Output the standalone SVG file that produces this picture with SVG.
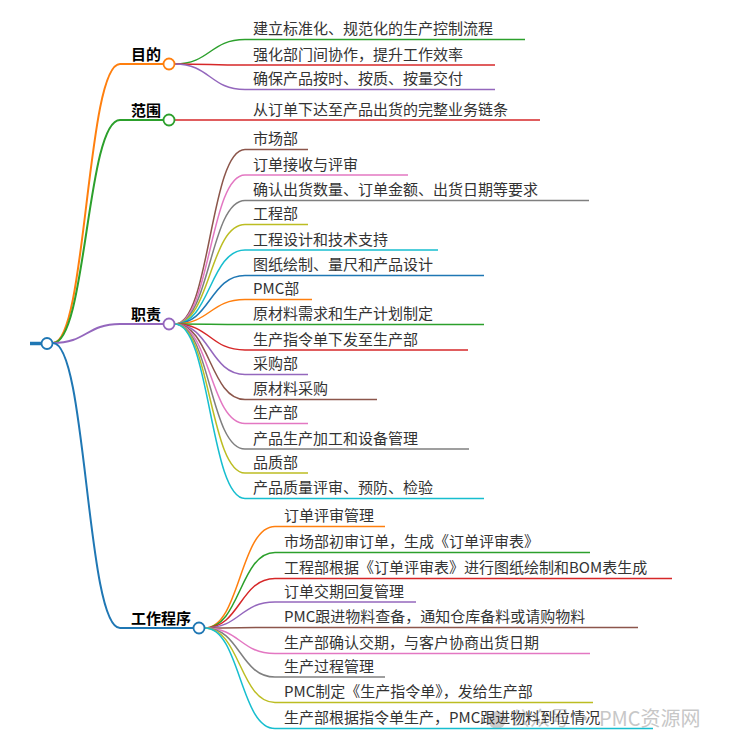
<svg xmlns="http://www.w3.org/2000/svg" width="730" height="747" viewBox="0 0 730 747">
<style>
  .lk{fill:none;stroke-width:1.5}
  .l1{fill:none;stroke-width:2}
  .c0{stroke:#1f77b4}.c1{stroke:#ff7f0e}.c2{stroke:#2ca02c}.c3{stroke:#d62728}.c4{stroke:#9467bd}
  .c5{stroke:#8c564b}.c6{stroke:#e377c2}.c7{stroke:#7f7f7f}.c8{stroke:#bcbd22}.c9{stroke:#17becf}
  .t{font-family:"Microsoft YaHei","Noto Sans CJK SC","Noto Sans",sans-serif;font-size:15px;fill:#333}
  .b{font-family:"Microsoft YaHei","Noto Sans CJK SC","Noto Sans",sans-serif;font-size:15px;font-weight:bold;fill:#000}
  .dot{fill:#fff;stroke-width:1.8}
  .wm{font-family:"Noto Sans CJK SC","Noto Sans",sans-serif;font-size:20px;fill:#9a9a9a;opacity:0.55}
</style>
<g id="watermark">
  <circle cx="497" cy="720" r="9" fill="#9a9a9a" opacity="0.5"/>
  <text class="wm" x="510" y="726">公众号 · PMC资源网</text>
</g>
<g id="connectors">
  <path class="l1 c1" d="M53,343 C86.5,343 86.5,64 120,64"/>
  <path class="l1 c2" d="M53,343 C86.5,343 86.5,120 120,120"/>
  <path class="l1 c4" d="M53,343 C86.5,343 86.5,324 120,324"/>
  <path class="l1 c0" d="M53,343 C86.5,343 86.5,628 120,628"/>
  <path class="lk c2" d="M175,64 C210,64 210,39.5 245,39.5"/>
  <path class="lk c3" d="M175,64 C210,64 210,65 245,65"/>
  <path class="lk c4" d="M175,64 C210,64 210,89.5 245,89.5"/>
  <path class="lk c3" d="M175,120 L245,120"/>
  <path class="lk c5" d="M175,324 C210,324 210,149.5 245,149.5"/>
  <path class="lk c6" d="M175,324 C210,324 210,175 245,175"/>
  <path class="lk c7" d="M175,324 C210,324 210,200.5 245,200.5"/>
  <path class="lk c8" d="M175,324 C210,324 210,224.5 245,224.5"/>
  <path class="lk c9" d="M175,324 C210,324 210,250 245,250"/>
  <path class="lk c0" d="M175,324 C210,324 210,275.5 245,275.5"/>
  <path class="lk c1" d="M175,324 C210,324 210,299.5 245,299.5"/>
  <path class="lk c2" d="M175,324 C210,324 210,324.5 245,324.5"/>
  <path class="lk c3" d="M175,324 C210,324 210,350 245,350"/>
  <path class="lk c4" d="M175,324 C210,324 210,374.5 245,374.5"/>
  <path class="lk c5" d="M175,324 C210,324 210,399.5 245,399.5"/>
  <path class="lk c6" d="M175,324 C210,324 210,423.5 245,423.5"/>
  <path class="lk c7" d="M175,324 C210,324 210,449 245,449"/>
  <path class="lk c8" d="M175,324 C210,324 210,473 245,473"/>
  <path class="lk c9" d="M175,324 C210,324 210,498.5 245,498.5"/>
  <path class="lk c1" d="M205,628 C240,628 240,526.5 275,526.5"/>
  <path class="lk c2" d="M205,628 C240,628 240,552.5 275,552.5"/>
  <path class="lk c3" d="M205,628 C240,628 240,578.5 275,578.5"/>
  <path class="lk c4" d="M205,628 C240,628 240,602 275,602"/>
  <path class="lk c5" d="M205,628 C240,628 240,627.5 275,627.5"/>
  <path class="lk c6" d="M205,628 C240,628 240,653.5 275,653.5"/>
  <path class="lk c7" d="M205,628 C240,628 240,677 275,677"/>
  <path class="lk c8" d="M205,628 C240,628 240,702.5 275,702.5"/>
  <path class="lk c9" d="M205,628 C240,628 240,728.5 275,728.5"/>
</g>
<g id="root">
  <line x1="30" y1="343.5" x2="42" y2="343.5" stroke="#1f77b4" stroke-width="3.5"/>
  <circle class="dot c0" cx="47" cy="343.5" r="5.5"/>
</g>
<g id="n-mudi">
  <line class="l1 c1" x1="120" y1="64" x2="163.5" y2="64"/>
  <text class="b" x="131" y="60">目的</text>
  <circle class="dot c1" cx="169" cy="64" r="5.5"/>
</g>
<g id="n-fanwei">
  <line class="l1 c2" x1="120" y1="120" x2="163.5" y2="120"/>
  <text class="b" x="131" y="116">范围</text>
  <circle class="dot c2" cx="169" cy="120" r="5.5"/>
</g>
<g id="n-zhize">
  <line class="l1 c4" x1="120" y1="324" x2="163.5" y2="324"/>
  <text class="b" x="131" y="320">职责</text>
  <circle class="dot c4" cx="169" cy="324" r="5.5"/>
</g>
<g id="n-chengxu">
  <line class="l1 c0" x1="120" y1="628" x2="193.5" y2="628"/>
  <text class="b" x="131" y="624">工作程序</text>
  <circle class="dot c0" cx="199" cy="628" r="5.5"/>
</g>
<g id="leaf-1"><line class="lk c2" x1="245" y1="39.5" x2="525" y2="39.5"/><text class="t" x="253" y="34">建立标准化、规范化的生产控制流程</text></g>
<g id="leaf-2"><line class="lk c3" x1="245" y1="65" x2="495" y2="65"/><text class="t" x="253" y="59.5">强化部门间协作，提升工作效率</text></g>
<g id="leaf-3"><line class="lk c4" x1="245" y1="89.5" x2="495" y2="89.5"/><text class="t" x="253" y="84">确保产品按时、按质、按量交付</text></g>
<g id="leaf-4"><line class="lk c3" x1="245" y1="120" x2="540" y2="120"/><text class="t" x="253" y="114.5">从订单下达至产品出货的完整业务链条</text></g>
<g id="leaf-5"><line class="lk c5" x1="245" y1="149.5" x2="308" y2="149.5"/><text class="t" x="253" y="144">市场部</text></g>
<g id="leaf-6"><line class="lk c6" x1="245" y1="175" x2="408" y2="175"/><text class="t" x="253" y="169.5">订单接收与评审</text></g>
<g id="leaf-7"><line class="lk c7" x1="245" y1="200.5" x2="589" y2="200.5"/><text class="t" x="253" y="195">确认出货数量、订单金额、出货日期等要求</text></g>
<g id="leaf-8"><line class="lk c8" x1="245" y1="224.5" x2="308" y2="224.5"/><text class="t" x="253" y="219">工程部</text></g>
<g id="leaf-9"><line class="lk c9" x1="245" y1="250" x2="438" y2="250"/><text class="t" x="253" y="244.5">工程设计和技术支持</text></g>
<g id="leaf-10"><line class="lk c0" x1="245" y1="275.5" x2="484" y2="275.5"/><text class="t" x="253" y="270">图纸绘制、量尺和产品设计</text></g>
<g id="leaf-11"><line class="lk c1" x1="245" y1="299.5" x2="312" y2="299.5"/><text class="t" x="253" y="294">PMC部</text></g>
<g id="leaf-12"><line class="lk c2" x1="245" y1="324.5" x2="484" y2="324.5"/><text class="t" x="253" y="319">原材料需求和生产计划制定</text></g>
<g id="leaf-13"><line class="lk c3" x1="245" y1="350" x2="468" y2="350"/><text class="t" x="253" y="344.5">生产指令单下发至生产部</text></g>
<g id="leaf-14"><line class="lk c4" x1="245" y1="374.5" x2="308" y2="374.5"/><text class="t" x="253" y="369">采购部</text></g>
<g id="leaf-15"><line class="lk c5" x1="245" y1="399.5" x2="377" y2="399.5"/><text class="t" x="253" y="394">原材料采购</text></g>
<g id="leaf-16"><line class="lk c6" x1="245" y1="423.5" x2="308" y2="423.5"/><text class="t" x="253" y="418">生产部</text></g>
<g id="leaf-17"><line class="lk c7" x1="245" y1="449" x2="469" y2="449"/><text class="t" x="253" y="443.5">产品生产加工和设备管理</text></g>
<g id="leaf-18"><line class="lk c8" x1="245" y1="473" x2="308" y2="473"/><text class="t" x="253" y="467.5">品质部</text></g>
<g id="leaf-19"><line class="lk c9" x1="245" y1="498.5" x2="484" y2="498.5"/><text class="t" x="253" y="493">产品质量评审、预防、检验</text></g>
<g id="leaf-20"><line class="lk c1" x1="275" y1="526.5" x2="385" y2="526.5"/><text class="t" x="284" y="521">订单评审管理</text></g>
<g id="leaf-21"><line class="lk c2" x1="275" y1="552.5" x2="590" y2="552.5"/><text class="t" x="284" y="547">市场部初审订单，生成《订单评审表》</text></g>
<g id="leaf-22"><line class="lk c3" x1="275" y1="578.5" x2="672" y2="578.5"/><text class="t" x="284" y="573">工程部根据《订单评审表》进行图纸绘制和BOM表生成</text></g>
<g id="leaf-23"><line class="lk c4" x1="275" y1="602" x2="416" y2="602"/><text class="t" x="284" y="596.5">订单交期回复管理</text></g>
<g id="leaf-24"><line class="lk c5" x1="275" y1="627.5" x2="638" y2="627.5"/><text class="t" x="284" y="622">PMC跟进物料查备，通知仓库备料或请购物料</text></g>
<g id="leaf-25"><line class="lk c6" x1="275" y1="653.5" x2="590" y2="653.5"/><text class="t" x="284" y="648">生产部确认交期，与客户协商出货日期</text></g>
<g id="leaf-26"><line class="lk c7" x1="275" y1="677" x2="385" y2="677"/><text class="t" x="284" y="671.5">生产过程管理</text></g>
<g id="leaf-27"><line class="lk c8" x1="275" y1="702.5" x2="593" y2="702.5"/><text class="t" x="284" y="697">PMC制定《生产指令单》，发给生产部</text></g>
<g id="leaf-28"><line class="lk c9" x1="275" y1="728.5" x2="653" y2="728.5"/><text class="t" x="284" y="723">生产部根据指令单生产，PMC跟进物料到位情况</text></g>
</svg>
